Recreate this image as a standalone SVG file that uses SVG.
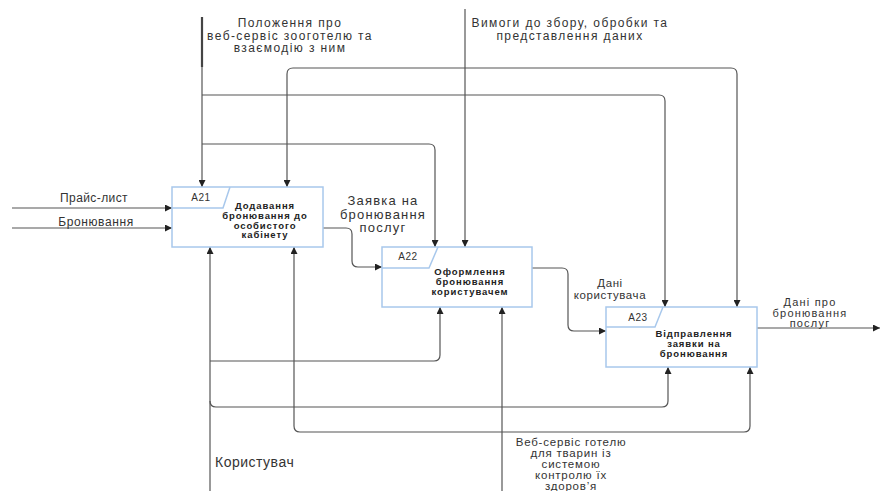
<svg xmlns="http://www.w3.org/2000/svg" width="881" height="491" viewBox="0 0 881 491">
<defs>
<marker id="ah" viewBox="0 0 10 10" refX="10" refY="5" markerWidth="7" markerHeight="7" markerUnits="userSpaceOnUse" orient="auto-start-reverse">
<path d="M0,0 L10,5 L0,10 z" fill="#222"/>
</marker>
<style>
.box{fill:#fff;stroke:#a8c8ec;stroke-width:1.5}
.tab{fill:none;stroke:#a8c8ec;stroke-width:1.5}
.ln{fill:none;stroke:#555;stroke-width:1.2}
.t{font-family:"Liberation Sans",Arial,sans-serif;fill:#333;text-anchor:middle}
.bt{font-family:"Liberation Sans",Arial,sans-serif;fill:#222;text-anchor:middle;font-weight:bold;font-size:9.5px;letter-spacing:0.9px}
.id{font-family:"Liberation Sans",Arial,sans-serif;fill:#333;text-anchor:middle;font-size:10px;letter-spacing:0.5px}
.top{font-size:12px;letter-spacing:1.4px}
</style>
</defs>
<rect width="881" height="491" fill="#fff"/>
<g id="connectors">
<path class="ln" d="M202,17 V67" style="stroke-width:2.2;stroke:#444"/>
<path class="ln" d="M202,67 V187" marker-end="url(#ah)"/>
<path class="ln" d="M202,95 H659 Q665,95 665,101 V307" marker-end="url(#ah)"/>
<path class="ln" d="M202,144 H429 Q435,144 435,150 V247" marker-end="url(#ah)"/>
<path class="ln" d="M287,187 V74 Q287,68 293,68 H731 Q737,68 737,74 V307" marker-start="url(#ah)" marker-end="url(#ah)"/>
<path class="ln" d="M465,9 V247" marker-end="url(#ah)"/>
<path class="ln" d="M12,208 H172" marker-end="url(#ah)"/>
<path class="ln" d="M12,228 H172" marker-end="url(#ah)"/>
<path class="ln" d="M323,228 H346 Q352,228 352,234 V261 Q352,267 358,267 H382" marker-end="url(#ah)"/>
<path class="ln" d="M532,268 H562 Q568,268 568,274 V325 Q568,331 574,331 H606" marker-end="url(#ah)"/>
<path class="ln" d="M757,328 H880" marker-end="url(#ah)"/>
<path class="ln" d="M210,491 V247" marker-end="url(#ah)"/>
<path class="ln" d="M210,361 H434 Q440,361 440,355 V307" marker-end="url(#ah)"/>
<path class="ln" d="M210,401 Q210,407 216,407 H662 Q668,407 668,401 V367" marker-end="url(#ah)"/>
<path class="ln" d="M294,247 V426 Q294,432 300,432 H744 Q750,432 750,426 V367" marker-start="url(#ah)" marker-end="url(#ah)"/>
<path class="ln" d="M502,491 V307" marker-end="url(#ah)"/>
</g>
<g id="A21">
<rect class="box" x="172" y="187" width="151" height="60"/>
<path class="tab" d="M172,208 H223 L230,187"/>
<text class="id" x="201" y="201">A21</text>
<text class="bt" x="265" y="209">Додавання</text>
<text class="bt" x="265" y="219">бронювання до</text>
<text class="bt" x="265" y="228.5">особистого</text>
<text class="bt" x="265" y="238">кабінету</text>
</g>
<g id="A22">
<rect class="box" x="382" y="247" width="150" height="60"/>
<path class="tab" d="M382,268 H429 L438,247"/>
<text class="id" x="408" y="260">A22</text>
<text class="bt" x="470" y="275">Оформлення</text>
<text class="bt" x="470" y="285">бронювання</text>
<text class="bt" x="470" y="295">користувачем</text>
</g>
<g id="A23">
<rect class="box" x="606" y="307" width="151" height="60"/>
<path class="tab" d="M606,327 H655 L663,307"/>
<text class="id" x="638" y="321">A23</text>
<text class="bt" x="694" y="337">Відправлення</text>
<text class="bt" x="694" y="347">заявки на</text>
<text class="bt" x="694" y="357">бронювання</text>
</g>
<g id="labels">
<text class="t top" x="290" y="27">Положення про</text>
<text class="t top" x="290" y="39.5">веб-сервіс зооготелю та</text>
<text class="t top" x="290" y="52">взаємодію з ним</text>
<text class="t top" x="570" y="27">Вимоги до збору, обробки та</text>
<text class="t top" x="570" y="39.5">представлення даних</text>
<text class="t" font-size="12" letter-spacing="0.4" x="94" y="202">Прайс-лист</text>
<text class="t" font-size="12" letter-spacing="0.6" x="96" y="226">Бронювання</text>
<text class="t" font-size="13" letter-spacing="1.2" x="383" y="205">Заявка на</text>
<text class="t" font-size="13" letter-spacing="1.2" x="383" y="218.5">бронювання</text>
<text class="t" font-size="13" letter-spacing="1.2" x="383" y="232">послуг</text>
<text class="t" font-size="11.5" letter-spacing="0.6" x="610" y="287">Дані</text>
<text class="t" font-size="11.5" letter-spacing="0.6" x="610" y="298.5">користувача</text>
<text class="t" font-size="11" letter-spacing="1.2" x="810" y="306">Дані про</text>
<text class="t" font-size="11" letter-spacing="1.2" x="810" y="316.5">бронювання</text>
<text class="t" font-size="11" letter-spacing="1.2" x="810" y="327">послуг</text>
<text class="t" font-size="11.5" letter-spacing="0.8" x="571" y="446">Веб-сервіс готелю</text>
<text class="t" font-size="11.5" letter-spacing="0.8" x="571" y="457">для тварин із</text>
<text class="t" font-size="11.5" letter-spacing="0.8" x="571" y="468">системою</text>
<text class="t" font-size="11.5" letter-spacing="0.8" x="571" y="479">контролю їх</text>
<text class="t" font-size="11.5" letter-spacing="0.8" x="571" y="490">здоров’я</text>
<text class="t" font-size="14" letter-spacing="0.5" x="215" y="467" style="text-anchor:start">Користувач</text>
</g>
</svg>
